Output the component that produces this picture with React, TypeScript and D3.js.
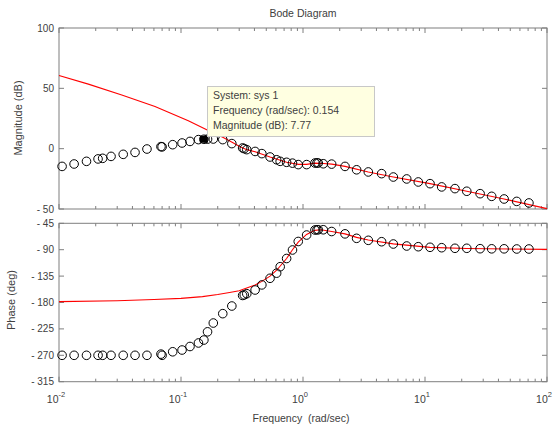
import * as d3 from 'd3';

const freqs = [0.0106, 0.0133, 0.0168, 0.0209, 0.0228, 0.0267, 0.0336, 0.042, 0.0526, 0.0685, 0.070, 0.0855, 0.102, 0.1185, 0.139, 0.154, 0.165, 0.184, 0.220, 0.261, 0.320, 0.330, 0.346, 0.405, 0.46, 0.537, 0.608, 0.65, 0.734, 0.82, 0.914, 1.071, 1.253, 1.30, 1.334, 1.466, 1.717, 2.21, 2.75, 3.43, 4.41, 5.50, 7.08, 8.81, 11.0, 13.7, 17.6, 22.0, 28.3, 35.2, 44.5, 56.5, 71.1];
const magData = [-14.7, -12.7, -10.5, -8.5, -8.0, -6.4, -4.7, -3.1, -0.3, 1.7, 1.5, 3.3, 4.7, 6.0, 7.5, 7.77, 7.9, 8.0, 7.5, 4.2, 0.6, 0, -0.8, -2.3, -4.1, -6.9, -9.2, -10.5, -11.3, -12, -13.2, -13.2, -11.9, -11.8, -11.9, -12.5, -12.8, -14.7, -17.5, -19.3, -20.7, -23.5, -25.1, -27.6, -29.0, -31.7, -33.1, -35.3, -37.3, -39.5, -41.7, -43.7, -45.0];
const phaseData = [-270, -270, -270, -270, -270, -270, -270, -270, -270, -268, -270, -264, -261, -255, -249, -244, -230, -215, -199, -186, -168, -167, -165, -158.7, -150, -138.7, -130, -119, -105, -90.5, -76, -65, -56.4, -56, -56, -56, -59, -63, -70.6, -74, -76.4, -80.3, -83.7, -84.9, -85.9, -86.6, -87.6, -87.6, -88.3, -88.5, -88.5, -88.8, -88.8];

// model response (red line)
const modelMagFreq = [0.01, 0.0174, 0.0327, 0.0612, 0.1148, 0.1625, 0.1786, 0.22, 0.26, 0.3, 0.346, 0.405, 0.537, 0.734, 0.914, 1.07, 1.25, 1.47, 1.72, 2.21, 3.43, 5.5, 11, 22, 44.5, 100];
const modelMag = [60.7, 53.5, 44.5, 35, 23.2, 15.7, 13.5, 9.5, 5.5, 2, -0.8, -2.5, -6.9, -11.3, -13, -13, -12, -12.3, -12.8, -14.7, -19.3, -23.5, -29, -35.3, -41.7, -49.7];
const modelPhaseFreq = [0.01, 0.03, 0.06, 0.1, 0.15, 0.2, 0.25, 0.3, 0.35, 0.405, 0.46, 0.537, 0.608, 0.734, 0.82, 0.914, 1.07, 1.25, 1.4, 1.72, 2.21, 2.75, 3.43, 5.5, 11, 22, 100];
const modelPhase = [-178.5, -177, -175, -173, -170, -166.5, -163, -160, -155, -150, -144, -135, -125, -105, -90, -77, -64, -57, -56, -59, -63, -69, -73.5, -80, -86, -88, -89.5];

const magTicks = [100, 50, 0, -50];
const phaseTicks = [-45, -90, -135, -180, -225, -270, -315];
const decades = [-2, -1, 0, 1, 2];

const tipFreq = 0.154;
const tipMag = 7.77;
const tipLines = ['System: sys 1', 'Frequency (rad/sec): 0.154', 'Magnitude (dB): 7.77'];

const font = '"Liberation Sans", Arial, sans-serif';
const frame = '#7f7f7f';
const txt = '#404040';

export default function App() {
  const left = 59, right = 547;
  const x = d3.scaleLog().domain([0.01, 100]).range([left, right]);
  const yMag = d3.scaleLinear().domain([-50, 100]).range([209, 28]);
  const yPh = d3.scaleLinear().domain([-315, -45]).range([381.7, 223.3]);

  const minor: number[] = [];
  decades.slice(0, -1).forEach(d => {
    for (let k = 2; k <= 9; k++) minor.push(k * Math.pow(10, d));
  });
  const major = decades.map(d => Math.pow(10, d));

  const magLine = d3.line<number>().x((_, i) => x(modelMagFreq[i])).y(d => yMag(d));
  const phLine = d3.line<number>().x((_, i) => x(modelPhaseFreq[i])).y(d => yPh(d));

  const panel = (y: d3.ScaleLinear<number, number>, ticks: number[], key: string) => {
    const [y1, y0] = y.range();
    return (
      <g key={key}>
        <rect x={left} y={y0} width={right - left} height={y1 - y0} fill="white" stroke={frame} strokeWidth={1} />
        {minor.map(f => (
          <g key={'mi' + f}>
            <line x1={x(f)} x2={x(f)} y1={y1} y2={y1 - 3} stroke={frame} />
            <line x1={x(f)} x2={x(f)} y1={y0} y2={y0 + 3} stroke={frame} />
          </g>
        ))}
        {major.map(f => (
          <g key={'ma' + f}>
            <line x1={x(f)} x2={x(f)} y1={y1} y2={y1 - 5} stroke={frame} />
            <line x1={x(f)} x2={x(f)} y1={y0} y2={y0 + 5} stroke={frame} />
          </g>
        ))}
        {ticks.map(t => (
          <g key={'t' + t}>
            <line x1={left} x2={left + 5} y1={y(t)} y2={y(t)} stroke={frame} />
            <line x1={right} x2={right - 5} y1={y(t)} y2={y(t)} stroke={frame} />
            <text x={left - 5} y={y(t) + 3.5} textAnchor="end" fontSize={10} fill={txt} fontFamily={font}>
              {t < 0 ? '- ' + Math.abs(t) : t}
            </text>
          </g>
        ))}
      </g>
    );
  };

  return (
    <svg width={556} height={430} style={{ position: 'absolute', left: 0, top: 0, background: 'white' }}>
      <rect width={556} height={430} fill="white" />
      {panel(yMag, magTicks, 'mag')}
      {panel(yPh, phaseTicks, 'ph')}

      <text x={303} y={17} textAnchor="middle" fontSize={10.5} fill={txt} fontFamily={font}>Bode Diagram</text>
      <text transform="translate(22,118) rotate(-90)" textAnchor="middle" fontSize={11} fill={txt} fontFamily={font}>Magnitude (dB)</text>
      <text transform="translate(15,300) rotate(-90)" textAnchor="middle" fontSize={11} fill={txt} fontFamily={font}>Phase (deg)</text>
      <text x={301} y={422} textAnchor="middle" fontSize={10.5} fill={txt} fontFamily={font} style={{ whiteSpace: 'pre' }}>{'Frequency  (rad/sec)'}</text>

      {decades.map(d => (
        <text key={'xl' + d} x={x(Math.pow(10, d)) - 3} y={403} textAnchor="middle" fontSize={10.5} fill={txt} fontFamily={font}>
          10<tspan dy={-6} fontSize={7.5}>{d}</tspan>
        </text>
      ))}

      <path d={magLine(modelMag) || ''} fill="none" stroke="#ff0000" strokeWidth={1.1} />
      <path d={phLine(modelPhase) || ''} fill="none" stroke="#ff0000" strokeWidth={1.1} />

      {freqs.map((f, i) => (
        <circle key={'cm' + i} cx={x(f)} cy={yMag(magData[i])} r={4.3} fill="none" stroke="black" strokeWidth={1} />
      ))}
      {freqs.map((f, i) => (
        <circle key={'cp' + i} cx={x(f)} cy={yPh(phaseData[i])} r={4.3} fill="none" stroke="black" strokeWidth={1} />
      ))}

      <rect x={x(tipFreq) - 4} y={yMag(tipMag) - 3.5} width={8} height={7} fill="black" />

      <g>
        <rect x={207.5} y={86.5} width={167} height={50} fill="#ffffe1" stroke="#c8c8c8" />
        {tipLines.map((s, i) => (
          <text key={s} x={213} y={99 + i * 15} fontSize={10.5} fill={txt} fontFamily={font}>{s}</text>
        ))}
      </g>
    </svg>
  );
}
